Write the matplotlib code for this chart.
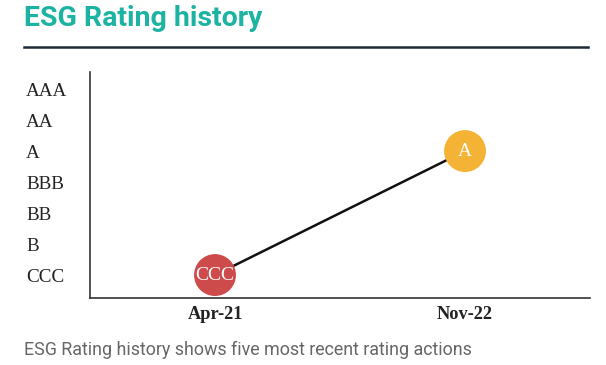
import matplotlib.pyplot as plt
import matplotlib.lines as mlines

# data
ratings = ["CCC", "B", "BB", "BBB", "A", "AA", "AAA"]
dates = ["Apr-21", "Nov-22"]
history = ["CCC", "A"]
colors = ["#cd4b4b", "#f5b335"]

fig = plt.figure(figsize=(6.06, 3.65), dpi=100)
W, H = 606, 365

ax = fig.add_axes([90 / W, 1 - 298 / H, 500 / W, 226 / H])

xs = list(range(len(dates)))
ys = [ratings.index(r) for r in history]

ax.plot(xs, ys, color="#111111", lw=1.8, zorder=1)
ax.scatter(xs, ys, s=910, c=colors, edgecolors="none", zorder=2)
for x, y, r in zip(xs, ys, history):
    ax.text(x, y, r, ha="center", va="center", color="white",
            fontsize=14, family="Liberation Serif", zorder=3)

ax.set_xlim(-0.5, 1.5)
ax.set_ylim(-0.74, 6.55)
ax.set_xticks(xs)
ax.set_xticklabels(dates, family="Liberation Serif", fontsize=13.2,
                   fontweight="bold", color="#222222")
ax.set_yticks(range(len(ratings)))
ax.set_yticklabels(ratings, family="Liberation Serif", fontsize=13.8,
                   color="#222222", ha="left", va="bottom")
ax.tick_params(axis="y", length=0, pad=46)
ax.tick_params(axis="x", length=0, pad=6)
for lbl in ax.get_yticklabels():
    lbl.set_va("center_baseline")
for s in ["top", "right"]:
    ax.spines[s].set_visible(False)
for s in ["left", "bottom"]:
    ax.spines[s].set_color("#333333")
    ax.spines[s].set_linewidth(1.2)

# header
fig.text(24 / W, 1 - 18 / H, "ESG Rating history", ha="left", va="center",
         family="Roboto", fontweight="bold", fontsize=20.5, color="#1db3a3")
fig.add_artist(mlines.Line2D([24 / W, 588 / W], [1 - 47 / H, 1 - 47 / H],
                             color="#1e2a35", lw=1.8))
fig.text(24 / W, 1 - 350 / H,
         "ESG Rating history shows five most recent rating actions",
         ha="left", va="center", family="Roboto",
         fontsize=12.9, color="#666666")

fig.savefig("out.png", dpi=100, facecolor="white")
